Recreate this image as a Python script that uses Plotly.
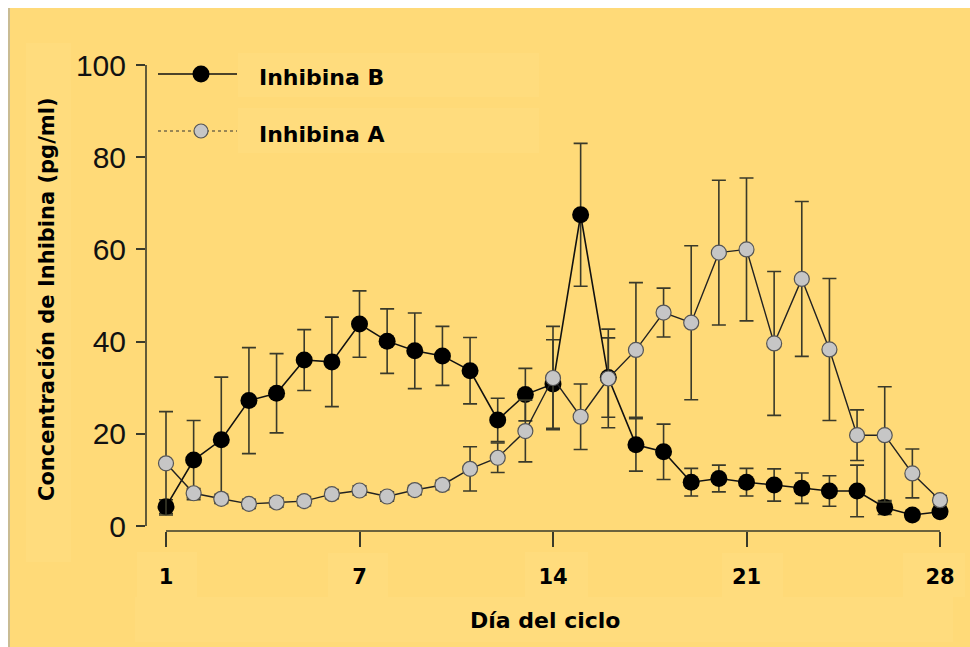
import plotly.graph_objects as go

# ---------------- data ----------------
dia = list(range(0, 29))                      # cycle day index (first point labelled "1")
tick_vals = [0, 7, 14, 21, 28]
tick_text = ["1", "7", "14", "21", "28"]
y_ticks = [0, 20, 40, 60, 80, 100]

inhibina_b = [4.2, 14.3, 18.7, 27.2, 28.8, 36.0, 35.6, 43.8, 40.1, 38.0, 36.9, 33.7, 23.0, 28.5,
              30.8, 67.5, 32.2, 17.6, 16.1, 9.5, 10.3, 9.5, 8.9, 8.2, 7.6, 7.6, 4.0, 2.4, 3.1]
err_b = [1.5, 8.6, 13.6, 11.5, 8.6, 6.6, 9.7, 7.2, 7.0, 8.2, 6.4, 7.2, 4.7, 5.7,
         9.6, 15.5, 8.6, 5.7, 6.0, 3.0, 2.9, 3.0, 3.5, 3.3, 3.3, 5.6, 1.5, 1.0, 1.0]

inhibina_a = [13.6, 7.1, 5.9, 4.8, 5.1, 5.4, 6.9, 7.7, 6.4, 7.8, 8.9, 12.4, 14.8, 20.6,
              32.1, 23.7, 32.0, 38.2, 46.3, 44.1, 59.3, 60.0, 39.6, 53.6, 38.3, 19.7, 19.7, 11.4, 5.6]
err_a_plus = [11.2, 1.0, 1.0, 1.0, 1.0, 1.0, 1.0, 1.0, 1.0, 1.0, 1.0, 4.8, 3.2, 6.7,
              11.2, 7.1, 10.7, 14.6, 5.3, 16.7, 15.7, 15.5, 15.6, 16.8, 15.4, 5.5, 10.5, 5.3, 1.0]
err_a_minus = [11.2, 1.0, 1.0, 1.0, 1.0, 1.0, 1.0, 1.0, 1.0, 1.0, 1.0, 4.8, 3.2, 6.7,
               11.2, 7.1, 10.7, 14.6, 5.3, 16.7, 15.7, 15.5, 15.6, 16.8, 15.4, 5.5, 14.5, 5.3, 1.0]

series_names = ["Inhibina B", "Inhibina A"]
x_title = "Día del ciclo"
y_title = "Concentración de Inhibina (pg/ml)"

# ---------------- layout geometry (pixels) ----------------
W, H = 970, 647
L, R, T, B = 146, 15, 60, 116
PW, PH = W - L - R, H - T - B
X_RANGE = [-0.7235, 28.5426]
Y_RANGE = [-1.0846, 101.0846]

BG = "#FFDA78"
BOX = "#FFDC7D"
INK = "#3a3a2a"
COMIC = "DejaVu Sans"


def px(xp):
    return (xp - L) / PW


def py(yp):
    return (H - B - yp) / PH


fig = go.Figure()

fig.add_trace(go.Scatter(
    x=dia, y=inhibina_b, mode="lines+markers", name=series_names[0],
    line=dict(color="#111111", width=1.6),
    marker=dict(color="#000000", size=17, line=dict(color="#000000", width=0)),
    error_y=dict(type="data", array=err_b, visible=True, color=INK,
                 thickness=1.6, width=7),
    cliponaxis=False, showlegend=False,
))
fig.add_trace(go.Scatter(
    x=dia, y=inhibina_a, mode="lines+markers", name=series_names[1],
    line=dict(color="#222222", width=1.4),
    marker=dict(color="#C6C6C6", size=15, line=dict(color="#555555", width=1.2)),
    error_y=dict(type="data", symmetric=False, array=err_a_plus, arrayminus=err_a_minus,
                 visible=True, color=INK, thickness=1.6, width=7),
    cliponaxis=False, showlegend=False,
))

shapes = []
# white border top / left with grey edge
shapes.append(dict(type="rect", xref="paper", yref="paper", x0=px(0), x1=px(W), y0=py(0), y1=py(8),
                   fillcolor="white", line=dict(width=0), layer="below"))
shapes.append(dict(type="rect", xref="paper", yref="paper", x0=px(0), x1=px(8), y0=py(0), y1=py(H),
                   fillcolor="white", line=dict(width=0), layer="below"))
shapes.append(dict(type="rect", xref="paper", yref="paper", x0=px(8), x1=px(10), y0=py(8), y1=py(H),
                   fillcolor="#C9BC94", line=dict(width=0), layer="below"))

# faint text boxes (slide artefacts)
for (x0, y0, x1, y1) in [(26, 43, 71, 562), (238, 53, 539, 97), (238, 108, 539, 153),
                         (137, 552, 197, 597), (328, 553, 388, 597), (525, 552, 588, 597),
                         (722, 553, 783, 597), (903, 553, 965, 597), (135, 597, 953, 642)]:
    shapes.append(dict(type="rect", xref="paper", yref="paper", x0=px(x0), x1=px(x1),
                       y0=py(y1), y1=py(y0), fillcolor=BOX, line=dict(width=0), layer="below"))

# axis lines
shapes.append(dict(type="line", xref="x", yref="paper", x0=tick_vals[0], x1=tick_vals[-1], y0=0, y1=0,
                   line=dict(color=INK, width=1.6)))
shapes.append(dict(type="line", xref="paper", yref="y", x0=0, x1=0, y0=y_ticks[0], y1=y_ticks[-1],
                   line=dict(color=INK, width=1.6)))

# legend lines + markers
leg_y = [74, 131]
shapes.append(dict(type="line", xref="paper", yref="paper", x0=px(158), x1=px(237), y0=py(leg_y[0]), y1=py(leg_y[0]),
                   line=dict(color="#111111", width=1.6)))
shapes.append(dict(type="line", xref="paper", yref="paper", x0=px(158), x1=px(237), y0=py(leg_y[1]), y1=py(leg_y[1]),
                   line=dict(color="#333333", width=1, dash="dot")))
shapes.append(dict(type="circle", xref="paper", yref="paper", xsizemode="pixel", ysizemode="pixel",
                   xanchor=px(201), yanchor=py(leg_y[0]), x0=-8.5, x1=8.5, y0=-8.5, y1=8.5,
                   fillcolor="#000000", line=dict(color="#000000", width=0)))
shapes.append(dict(type="circle", xref="paper", yref="paper", xsizemode="pixel", ysizemode="pixel",
                   xanchor=px(201), yanchor=py(leg_y[1]), x0=-7, x1=7, y0=-7, y1=7,
                   fillcolor="#C6C6C6", line=dict(color="#555555", width=1.2)))

annotations = []
for name, yy in zip(series_names, leg_y):
    annotations.append(dict(text=name, xref="paper", yref="paper", x=px(257), y=py(yy + 3),
                            xanchor="left", yanchor="middle", showarrow=False,
                            font=dict(family=COMIC, size=22, color="#000000", weight="bold")))
annotations.append(dict(text=y_title, xref="paper", yref="paper", x=px(47), y=py(299),
                        xanchor="center", yanchor="middle", textangle=-90, showarrow=False,
                        font=dict(family=COMIC, size=21, color="#000000", weight="bold")))
annotations.append(dict(text=x_title, xref="paper", yref="paper", x=px(545), y=py(620),
                        xanchor="center", yanchor="middle", showarrow=False,
                        font=dict(family=COMIC, size=22, color="#000000", weight="bold")))

fig.update_layout(
    width=W, height=H,
    margin=dict(l=L, r=R, t=T, b=B, pad=0),
    paper_bgcolor=BG, plot_bgcolor="rgba(0,0,0,0)",
    showlegend=False,
    shapes=shapes, annotations=annotations,
    xaxis=dict(range=X_RANGE, tickvals=tick_vals, ticktext=tick_text, showgrid=False, zeroline=False,
               showline=False, ticks="outside", ticklen=15, tickwidth=1.6, tickcolor=INK,
               ticklabelstandoff=12,
               tickfont=dict(family=COMIC, size=21, color="#000000", weight="bold"),
               automargin=False, fixedrange=True),
    yaxis=dict(range=Y_RANGE, tickvals=y_ticks, showgrid=False, zeroline=False, showline=False,
               ticks="outside", ticklen=9, tickwidth=1.6, tickcolor=INK,
               ticklabelstandoff=4,
               tickfont=dict(family="Liberation Sans", size=30, color="#111111"),
               automargin=False, fixedrange=True),
)

fig.write_html("out.html")
